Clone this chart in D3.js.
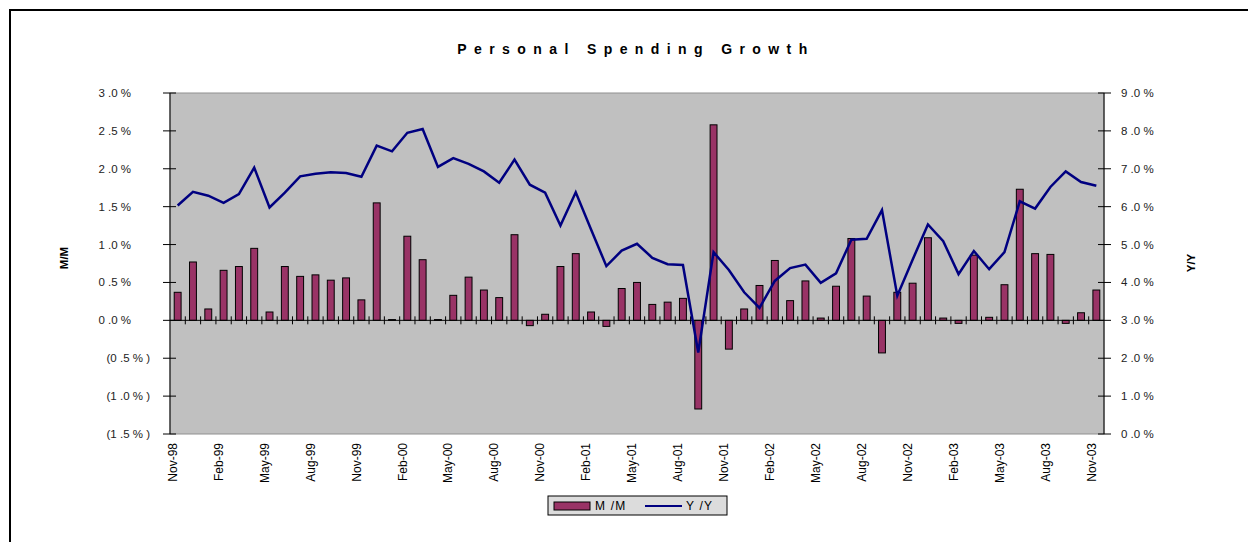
<!DOCTYPE html>
<html>
<head>
<meta charset="utf-8">
<script src="https://cdn.jsdelivr.net/npm/d3@7"></script>
<style>
  body { margin: 0; background: #fff; }
  text { font-family: "Liberation Sans", Arial, sans-serif; fill: #000; white-space: pre; }
</style>
</head>
<body>
<div id="main"></div>
<script>
// months on the category axis
const months = [
  "Nov-98","Dec-98",
  "Jan-99","Feb-99","Mar-99","Apr-99","May-99","Jun-99","Jul-99","Aug-99","Sep-99","Oct-99","Nov-99","Dec-99",
  "Jan-00","Feb-00","Mar-00","Apr-00","May-00","Jun-00","Jul-00","Aug-00","Sep-00","Oct-00","Nov-00","Dec-00",
  "Jan-01","Feb-01","Mar-01","Apr-01","May-01","Jun-01","Jul-01","Aug-01","Sep-01","Oct-01","Nov-01","Dec-01",
  "Jan-02","Feb-02","Mar-02","Apr-02","May-02","Jun-02","Jul-02","Aug-02","Sep-02","Oct-02","Nov-02","Dec-02",
  "Jan-03","Feb-03","Mar-03","Apr-03","May-03","Jun-03","Jul-03","Aug-03","Sep-03","Oct-03","Nov-03"
];

// M/M growth, % (bars, left axis)
const mom = [
  0.37, 0.77,
  0.15, 0.66, 0.71, 0.95, 0.11, 0.71, 0.58, 0.60, 0.53, 0.56, 0.27, 1.55,
  0.01, 1.11, 0.80, 0.01, 0.33, 0.57, 0.40, 0.30, 1.13, -0.07, 0.08, 0.71,
  0.88, 0.11, -0.08, 0.42, 0.50, 0.21, 0.24, 0.29, -1.17, 2.58, -0.38, 0.15,
  0.46, 0.79, 0.26, 0.52, 0.03, 0.45, 1.08, 0.32, -0.43, 0.37, 0.49, 1.09,
  0.03, -0.04, 0.86, 0.04, 0.47, 1.73, 0.88, 0.87, -0.04, 0.10, 0.40
];

// Y/Y growth, % (line, right axis)
const yoy = [
  6.03, 6.39,
  6.29, 6.10, 6.33, 7.03, 5.98, 6.37, 6.80, 6.87, 6.91, 6.89, 6.79, 7.61,
  7.46, 7.95, 8.05, 7.05, 7.28, 7.13, 6.93, 6.63, 7.24, 6.58, 6.37, 5.50,
  6.38, 5.40, 4.43, 4.84, 5.02, 4.65, 4.48, 4.46, 2.15, 4.80, 4.33, 3.74,
  3.33, 4.04, 4.38, 4.47, 3.99, 4.24, 5.13, 5.15, 5.91, 3.65, 4.60, 5.53,
  5.09, 4.22, 4.83, 4.35, 4.80, 6.14, 5.95, 6.52, 6.93, 6.65, 6.55
];

const leftTicks = [3.0, 2.5, 2.0, 1.5, 1.0, 0.5, 0.0, -0.5, -1.0, -1.5];
const rightTicks = [9, 8, 7, 6, 5, 4, 3, 2, 1, 0];
const tickMonths = ["Nov-98","Feb-99","May-99","Aug-99","Nov-99","Feb-00","May-00","Aug-00","Nov-00",
  "Feb-01","May-01","Aug-01","Nov-01","Feb-02","May-02","Aug-02","Nov-02","Feb-03","May-03","Aug-03","Nov-03"];

const width = 1248, height = 542;

const svg = d3.select("#main")
  .append("svg")
  .attr("width", width)
  .attr("height", height);

// outer chart border (runs past the right / bottom edge)
svg.append("rect")
  .attr("x", 10).attr("y", 10)
  .attr("width", 1260).attr("height", 560)
  .attr("fill", "none")
  .attr("stroke", "#000")
  .attr("stroke-width", 2);

const plotL = 170, plotR = 1104, plotT = 93, plotB = 434;

const x = d3.scaleBand().domain(months).range([plotL, plotR]);
const yL = d3.scaleLinear().domain([-1.5, 3]).range([plotB, plotT]);
const yR = d3.scaleLinear().domain([0, 9]).range([plotB, plotT]);

// plot area
svg.append("rect")
  .attr("x", plotL).attr("y", plotT)
  .attr("width", plotR - plotL).attr("height", plotB - plotT)
  .attr("fill", "#c0c0c0")
  .attr("stroke", "#909090")
  .attr("stroke-width", 1);

// title
svg.append("text")
  .attr("x", 636).attr("y", 54)
  .attr("text-anchor", "middle")
  .style("font-size", "14px")
  .style("font-weight", "bold")
  .style("letter-spacing", "7.4px")
  .text("Personal Spending Growth");

// number format like the sheet: "3 .0 %" and "(0 .5 % )"
function fmt(v) {
  const s = Math.abs(v).toFixed(1).replace(".", " .");
  return v < 0 ? "(" + s + " % )" : s + " %";
}

// left axis
svg.append("line")
  .attr("x1", plotL).attr("x2", plotL)
  .attr("y1", plotT).attr("y2", plotB)
  .attr("stroke", "#000");

svg.selectAll(".ltick")
  .data(leftTicks)
  .enter().append("line")
  .attr("x1", plotL - 7).attr("x2", plotL + 6)
  .attr("y1", d => yL(d)).attr("y2", d => yL(d))
  .attr("stroke", "#000");

svg.selectAll(".llab")
  .data(leftTicks)
  .enter().append("text")
  .attr("x", d => d < 0 ? 150 : 131)
  .attr("y", d => yL(d))
  .attr("dy", "0.35em")
  .attr("text-anchor", "end")
  .style("font-size", "11.5px")
  .style("fill", "#222")
  .text(d => fmt(d));

// right axis
svg.append("line")
  .attr("x1", plotR).attr("x2", plotR)
  .attr("y1", plotT).attr("y2", plotB)
  .attr("stroke", "#000");

svg.selectAll(".rtick")
  .data(rightTicks)
  .enter().append("line")
  .attr("x1", plotR - 6).attr("x2", plotR + 7)
  .attr("y1", d => yR(d)).attr("y2", d => yR(d))
  .attr("stroke", "#000");

svg.selectAll(".rlab")
  .data(rightTicks)
  .enter().append("text")
  .attr("x", 1121)
  .attr("y", d => yR(d))
  .attr("dy", "0.35em")
  .style("font-size", "11.5px")
  .style("fill", "#222")
  .text(d => fmt(d));

// axis titles
svg.append("text")
  .attr("transform", "translate(68,258) rotate(-90)")
  .attr("text-anchor", "middle")
  .style("font-size", "11.5px")
  .style("font-weight", "bold")
  .text("M/M");

svg.append("text")
  .attr("transform", "translate(1195,263) rotate(-90)")
  .attr("text-anchor", "middle")
  .style("font-size", "11.5px")
  .style("font-weight", "bold")
  .text("Y/Y");

// bars
const bw = x.bandwidth() * 0.45;
svg.selectAll(".bar")
  .data(mom)
  .enter().append("rect")
  .attr("x", (d, i) => x(months[i]) + (x.bandwidth() - bw) / 2)
  .attr("y", d => yL(Math.max(0, d)))
  .attr("width", bw)
  .attr("height", d => Math.abs(yL(d) - yL(0)))
  .attr("fill", "#993366")
  .attr("stroke", "#000")
  .attr("stroke-width", 1);

// category axis at zero
svg.append("line")
  .attr("x1", plotL).attr("x2", plotR)
  .attr("y1", yL(0)).attr("y2", yL(0))
  .attr("stroke", "#000");

svg.selectAll(".xtick")
  .data(months.slice(1))
  .enter().append("line")
  .attr("x1", d => x(d)).attr("x2", d => x(d))
  .attr("y1", yL(0) - 4).attr("y2", yL(0) + 4)
  .attr("stroke", "#000");

// Y/Y line
const line = d3.line()
  .x((d, i) => x(months[i]) + x.bandwidth() / 2)
  .y(d => yR(d));

svg.append("path")
  .datum(yoy)
  .attr("d", line)
  .attr("fill", "none")
  .attr("stroke", "#000080")
  .attr("stroke-width", 2.5)
  .attr("stroke-linejoin", "miter");

// month labels
svg.selectAll(".xlab")
  .data(tickMonths)
  .enter().append("text")
  .attr("transform", d => "translate(" + (x(d) + x.bandwidth() / 2 - 5) + "," + 443 + ") rotate(-90)")
  .attr("dy", "0.35em")
  .attr("text-anchor", "end")
  .style("font-size", "12px")
  .text(d => d);

// legend
const lg = svg.append("g");
lg.append("rect")
  .attr("x", 548).attr("y", 496)
  .attr("width", 179).attr("height", 19)
  .attr("fill", "#dcdcdc")
  .attr("stroke", "#000");
lg.append("rect")
  .attr("x", 554).attr("y", 502)
  .attr("width", 36).attr("height", 8)
  .attr("fill", "#993366")
  .attr("stroke", "#000");
lg.append("text")
  .attr("x", 595).attr("y", 506)
  .attr("dy", "0.35em")
  .style("font-size", "12px")
  .style("letter-spacing", "1.2px")
  .text("M /M");
lg.append("line")
  .attr("x1", 645).attr("x2", 682)
  .attr("y1", 506).attr("y2", 506)
  .attr("stroke", "#000080")
  .attr("stroke-width", 2);
lg.append("text")
  .attr("x", 686).attr("y", 506)
  .attr("dy", "0.35em")
  .style("font-size", "12px")
  .style("letter-spacing", "1.2px")
  .text("Y /Y");
</script>
</body>
</html>
